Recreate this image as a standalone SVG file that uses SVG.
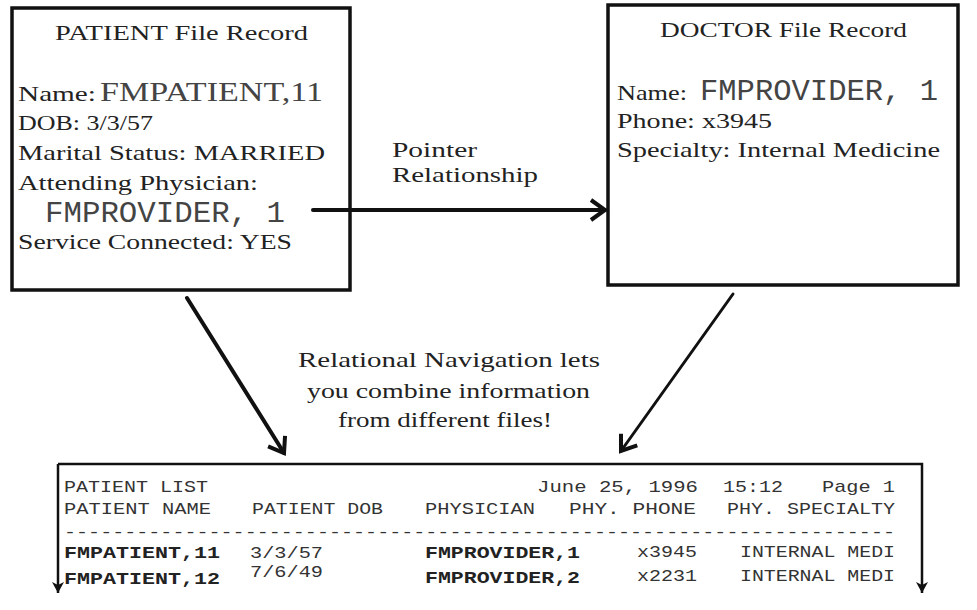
<svg xmlns="http://www.w3.org/2000/svg" width="977" height="610" viewBox="0 0 977 610">
<style>
  .box { fill: #fff; stroke: #111; stroke-width: 3.5; }
  .ser { font-family: "Liberation Serif", "DejaVu Serif", serif; font-size: 22px; fill: #222; }
  .big { font-family: "Liberation Serif", "DejaVu Serif", serif; font-size: 28px; fill: #444; }
  .mono { font-family: "Liberation Mono", "DejaVu Sans Mono", monospace; font-size: 30px; fill: #444; }
  .tb { font-family: "Liberation Mono", "DejaVu Sans Mono", monospace; font-size: 17px; fill: #333; }
  .tbb { font-family: "Liberation Mono", "DejaVu Sans Mono", monospace; font-size: 17px; fill: #222; font-weight: bold; }
  .conn { fill: none; stroke: #111; stroke-linecap: round; }
</style>
<defs>
  <marker id="chev" markerUnits="userSpaceOnUse" markerWidth="24" markerHeight="24" viewBox="-20 -12 24 24" refX="0" refY="0" orient="auto">
    <path d="M-14,-10 L0,0 L-14,10" fill="none" stroke="#111" stroke-width="4" stroke-linejoin="miter"/>
  </marker>
  <marker id="tri" markerUnits="userSpaceOnUse" markerWidth="16" markerHeight="16" viewBox="-14 -8 16 16" refX="0" refY="0" orient="auto">
    <path d="M-11,-6 L0,0 L-11,6 L-8,0 Z" fill="#111"/>
  </marker>
</defs>
<rect width="977" height="610" fill="#fff"/>

<g id="patient">
  <rect class="box" x="12" y="8" width="338" height="282"/>
  <text class="ser" x="55" y="40" textLength="253" lengthAdjust="spacingAndGlyphs">PATIENT File Record</text>
  <text class="ser" x="18" y="101" textLength="78" lengthAdjust="spacingAndGlyphs">Name:</text>
  <text class="big" x="100" y="101" textLength="223" lengthAdjust="spacingAndGlyphs">FMPATIENT,11</text>
  <text class="ser" x="18" y="130" textLength="135" lengthAdjust="spacingAndGlyphs">DOB: 3/3/57</text>
  <text class="ser" x="18" y="160" textLength="307" lengthAdjust="spacingAndGlyphs">Marital Status: MARRIED</text>
  <text class="ser" x="18" y="190" textLength="240" lengthAdjust="spacingAndGlyphs">Attending Physician:</text>
  <text class="mono" x="45" y="222" textLength="240" lengthAdjust="spacingAndGlyphs">FMPROVIDER, 1</text>
  <text class="ser" x="18" y="249" textLength="274" lengthAdjust="spacingAndGlyphs">Service Connected: YES</text>
</g>

<g id="doctor">
  <rect class="box" x="608" y="5" width="350" height="280"/>
  <text class="ser" x="660" y="37" textLength="247" lengthAdjust="spacingAndGlyphs">DOCTOR File Record</text>
  <text class="ser" x="617" y="100" textLength="70" lengthAdjust="spacingAndGlyphs">Name:</text>
  <text class="mono" x="700" y="100" textLength="238" lengthAdjust="spacingAndGlyphs">FMPROVIDER, 1</text>
  <text class="ser" x="617" y="128" textLength="155" lengthAdjust="spacingAndGlyphs">Phone: x3945</text>
  <text class="ser" x="617" y="157" textLength="323" lengthAdjust="spacingAndGlyphs">Specialty: Internal Medicine</text>
</g>

<g id="pointer-label">
  <text class="ser" x="392" y="157" textLength="85" lengthAdjust="spacingAndGlyphs">Pointer</text>
  <text class="ser" x="392" y="182" textLength="146" lengthAdjust="spacingAndGlyphs">Relationship</text>
</g>

<g id="navigation-label">
  <text class="ser" x="298" y="367" textLength="302" lengthAdjust="spacingAndGlyphs">Relational Navigation lets</text>
  <text class="ser" x="307" y="398" textLength="283" lengthAdjust="spacingAndGlyphs">you combine information</text>
  <text class="ser" x="338" y="427" textLength="214" lengthAdjust="spacingAndGlyphs">from different files!</text>
</g>

<g id="report">
  <path d="M58,464 V593" fill="none" stroke="#111" stroke-width="2.5" marker-end="url(#tri)"/>
  <path d="M58,464 H922 V593" fill="none" stroke="#111" stroke-width="2.5" marker-end="url(#tri)"/>
  <text class="tb" x="64" y="492" textLength="144" lengthAdjust="spacingAndGlyphs">PATIENT LIST</text>
  <text class="tb" x="537" y="492" textLength="161" lengthAdjust="spacingAndGlyphs">June 25, 1996</text>
  <text class="tb" x="723" y="492" textLength="60" lengthAdjust="spacingAndGlyphs">15:12</text>
  <text class="tb" x="822" y="492" textLength="73" lengthAdjust="spacingAndGlyphs">Page 1</text>
  <text class="tb" x="64" y="514" textLength="147" lengthAdjust="spacingAndGlyphs">PATIENT NAME</text>
  <text class="tb" x="252" y="514" textLength="131" lengthAdjust="spacingAndGlyphs">PATIENT DOB</text>
  <text class="tb" x="425" y="514" textLength="110" lengthAdjust="spacingAndGlyphs">PHYSICIAN</text>
  <text class="tb" x="569" y="514" textLength="127" lengthAdjust="spacingAndGlyphs">PHY. PHONE</text>
  <text class="tb" x="727" y="514" textLength="168" lengthAdjust="spacingAndGlyphs">PHY. SPECIALTY</text>
  <text class="tb" x="64" y="537" textLength="831" lengthAdjust="spacingAndGlyphs">---------------------------------------------------------------------</text>
  <text class="tbb" x="64" y="558" textLength="156" lengthAdjust="spacingAndGlyphs">FMPATIENT,11</text>
  <text class="tb" x="250" y="558" textLength="73" lengthAdjust="spacingAndGlyphs">3/3/57</text>
  <text class="tbb" x="425" y="558" textLength="155" lengthAdjust="spacingAndGlyphs">FMPROVIDER,1</text>
  <text class="tb" x="637" y="557" textLength="60" lengthAdjust="spacingAndGlyphs">x3945</text>
  <text class="tb" x="740" y="557" textLength="155" lengthAdjust="spacingAndGlyphs">INTERNAL MEDI</text>
  <text class="tbb" x="64" y="584" textLength="156" lengthAdjust="spacingAndGlyphs">FMPATIENT,12</text>
  <text class="tb" x="250" y="577" textLength="73" lengthAdjust="spacingAndGlyphs">7/6/49</text>
  <text class="tbb" x="425" y="583" textLength="155" lengthAdjust="spacingAndGlyphs">FMPROVIDER,2</text>
  <text class="tb" x="637" y="581" textLength="60" lengthAdjust="spacingAndGlyphs">x2231</text>
  <text class="tb" x="740" y="581" textLength="155" lengthAdjust="spacingAndGlyphs">INTERNAL MEDI</text>
</g>

<g id="connectors">
  <line class="conn" x1="313" y1="210" x2="605" y2="210" stroke-width="4" marker-end="url(#chev)"/>
  <line class="conn" x1="187" y1="298" x2="284" y2="453" stroke-width="4" marker-end="url(#chev)"/>
  <line class="conn" x1="733" y1="294" x2="621" y2="451" stroke-width="3" marker-end="url(#chev)"/>
</g>
</svg>
